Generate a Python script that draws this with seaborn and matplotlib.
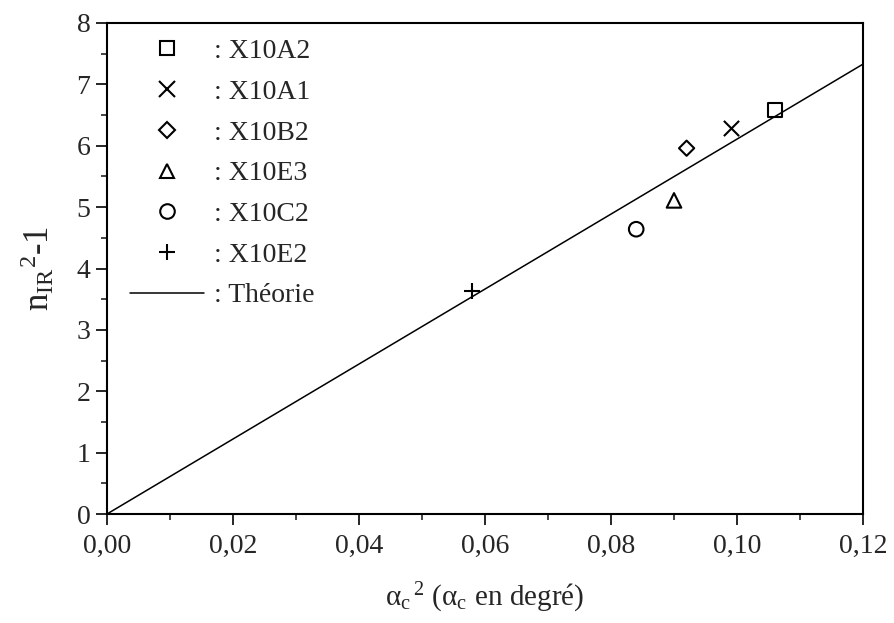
import matplotlib
matplotlib.use("Agg")
import matplotlib.pyplot as plt
import seaborn as sns
import numpy as np
import pandas as pd
from matplotlib.lines import Line2D
from matplotlib.ticker import MultipleLocator, FuncFormatter

# ---- data ----
samples = ["X10A2", "X10A1", "X10B2", "X10E3", "X10C2", "X10E2"]
alpha_c2 = [0.106, 0.099, 0.092, 0.090, 0.084, 0.058]
n_ir2_minus1 = [6.58, 6.29, 5.96, 5.11, 4.64, 3.63]
markers = ["s", "x", "D", "^", "o", "+"]
marker_sizes = [100, 120, 60, 110, 110, 120]
theory_x = [0.0, 0.12]
theory_y = [0.0, 7.33]

sns.set_theme(style="white")
plt.rcParams["font.family"] = ["Liberation Serif", "DejaVu Serif"]
plt.rcParams["mathtext.fontset"] = "custom"
plt.rcParams["mathtext.rm"] = "Liberation Serif"
plt.rcParams["mathtext.it"] = "Liberation Serif"
plt.rcParams["mathtext.bf"] = "Liberation Serif:bold"

fig, ax = plt.subplots(figsize=(8.95, 6.23), dpi=100)
fig.subplots_adjust(left=107/895, right=863/895, top=1-23/623, bottom=1-514/623)

df_theory = pd.DataFrame({"x": theory_x, "y": theory_y})
sns.lineplot(data=df_theory, x="x", y="y", color="black", linewidth=1.1, ax=ax)

handles = []
for s, xv, yv, m, ms in zip(samples, alpha_c2, n_ir2_minus1, markers, marker_sizes):
    df = pd.DataFrame({"x": [xv], "y": [yv]})
    if m in ("x", "+"):
        sns.scatterplot(data=df, x="x", y="y", marker=m, s=ms, color="black",
                        linewidth=1.5, ax=ax, zorder=3)
        handles.append(Line2D([], [], linestyle="none", marker=m, color="black",
                              markersize=np.sqrt(ms), markeredgewidth=1.5, label=": " + s))
    else:
        sns.scatterplot(data=df, x="x", y="y", marker=m, s=ms, facecolor="none",
                        edgecolor="black", linewidth=1.5, ax=ax, zorder=3)
        handles.append(Line2D([], [], linestyle="none", marker=m, markerfacecolor="none",
                              markeredgecolor="black", markersize=np.sqrt(ms),
                              markeredgewidth=1.5, label=": " + s))
handles.append(Line2D([], [], color="black", linewidth=1.1, label=": Théorie"))

leg = ax.legend(handles=handles, loc="upper left", frameon=False, fontsize=20,
                handlelength=2.65, handletextpad=0.36, labelspacing=0.55,
                borderaxespad=0.0, borderpad=0.0, bbox_to_anchor=(0.031, 0.968))

ax.set_xlim(0, 0.12)
ax.set_ylim(0, 8)
ax.xaxis.set_major_locator(MultipleLocator(0.02))
ax.xaxis.set_minor_locator(MultipleLocator(0.01))
ax.yaxis.set_major_locator(MultipleLocator(1))
ax.yaxis.set_minor_locator(MultipleLocator(0.5))
ax.xaxis.set_major_formatter(FuncFormatter(lambda v, p: f"{v:.2f}".replace(".", ",")))
ax.yaxis.set_major_formatter(FuncFormatter(lambda v, p: f"{v:.0f}"))

ax.tick_params(axis="both", which="major", direction="out", length=8, width=1.4,
               labelsize=20, bottom=True, left=True, top=False, right=False)
ax.tick_params(axis="x", which="major", pad=6)
ax.tick_params(axis="y", which="major", pad=4)
ax.tick_params(axis="both", which="minor", direction="out", length=4, width=1.2,
               bottom=True, left=True, top=False, right=False)

for sp in ax.spines.values():
    sp.set_linewidth(1.5)
    sp.set_color("black")

ax.set_xlabel(r"$\mathregular{\alpha_{c}{}^{\,2}\ (\alpha_{c}\ en\ degr\acute{e})}$", fontsize=21, labelpad=16)
ax.set_ylabel(r"$\mathregular{n_{IR}{}^{2}}$-1", fontsize=25, labelpad=14)

fig.savefig("out.png", dpi=100)
